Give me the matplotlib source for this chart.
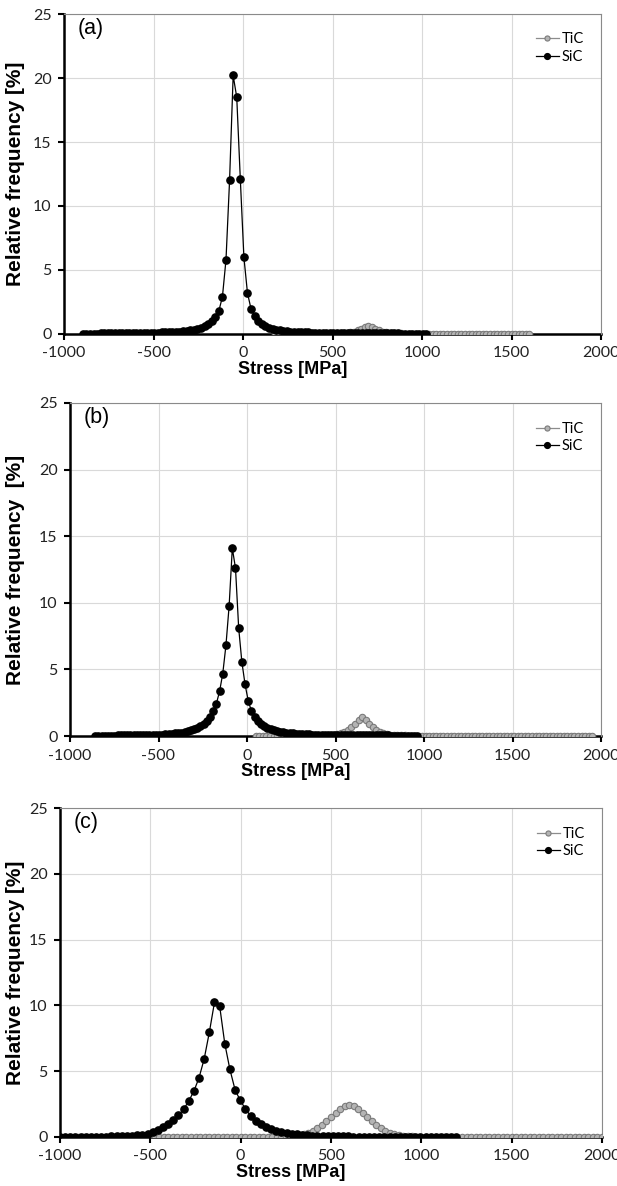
import numpy as np
import matplotlib
matplotlib.use('Agg')
import matplotlib.pyplot as plt

matplotlib.rcParams['axes.unicode_minus'] = False

# ---- data ----
# (a)
sic_a_x = np.arange(-895, 1026, 20)
sic_a_y = [0.03, 0.03, 0.03, 0.03, 0.03, 0.04, 0.04, 0.04, 0.04, 0.04,
           0.05, 0.05, 0.05, 0.05, 0.06, 0.06, 0.07, 0.07, 0.08, 0.09,
           0.10, 0.11, 0.12, 0.13, 0.14, 0.15, 0.16, 0.18, 0.20, 0.24,
           0.28, 0.33, 0.40, 0.50, 0.62, 0.80, 1.00, 1.30, 1.80, 2.90,
           5.80, 12.0, 20.2, 18.5, 12.1, 6.00, 3.20, 1.95, 1.40, 1.05,
           0.80, 0.62, 0.50, 0.40, 0.33, 0.28, 0.24, 0.21, 0.18, 0.16,
           0.15, 0.14, 0.13, 0.12, 0.11, 0.10, 0.10, 0.09, 0.09, 0.08,
           0.08, 0.07, 0.07, 0.07, 0.06, 0.06, 0.06, 0.06, 0.05, 0.05,
           0.05, 0.05, 0.05, 0.04, 0.04, 0.04, 0.04, 0.04, 0.04, 0.03,
           0.03, 0.03, 0.03, 0.03, 0.03, 0.03, 0.03]
tic_a_x = np.arange(180, 1601, 20)
tic_a_y = [0.02, 0.02, 0.02, 0.02, 0.02, 0.02, 0.02, 0.02, 0.02, 0.02,
           0.02, 0.02, 0.02, 0.02, 0.03, 0.03, 0.03, 0.04, 0.04, 0.05,
           0.08, 0.12, 0.18, 0.28, 0.40, 0.55, 0.65, 0.55, 0.40, 0.28,
           0.18, 0.12, 0.08, 0.05, 0.04, 0.04, 0.03, 0.03, 0.03, 0.03,
           0.02, 0.02, 0.02, 0.02, 0.02, 0.02, 0.02, 0.02, 0.02, 0.02,
           0.02, 0.02, 0.02, 0.02, 0.02, 0.02, 0.02, 0.02, 0.02, 0.02,
           0.02, 0.02, 0.02, 0.02, 0.02, 0.02, 0.02, 0.02, 0.02, 0.02,
           0.02, 0.02]

# (b)
sic_b_x = np.arange(-857, 962, 18)
sic_b_y = [0.03, 0.03, 0.03, 0.03, 0.03, 0.03, 0.03, 0.04, 0.04, 0.04,
           0.04, 0.05, 0.05, 0.05, 0.06, 0.06, 0.07, 0.07, 0.08, 0.08,
           0.09, 0.10, 0.12, 0.14, 0.16, 0.19, 0.22, 0.26, 0.30, 0.36,
           0.42, 0.50, 0.62, 0.75, 0.92, 1.15, 1.45, 1.85, 2.43, 3.35,
           4.68, 6.80, 9.76, 14.1, 12.6, 8.10, 5.56, 3.88, 2.63, 1.88,
           1.45, 1.15, 0.92, 0.75, 0.62, 0.52, 0.44, 0.38, 0.33, 0.29,
           0.26, 0.23, 0.20, 0.18, 0.16, 0.14, 0.13, 0.12, 0.11, 0.10,
           0.09, 0.09, 0.08, 0.08, 0.07, 0.07, 0.07, 0.06, 0.06, 0.06,
           0.06, 0.05, 0.05, 0.05, 0.05, 0.05, 0.04, 0.04, 0.04, 0.04,
           0.04, 0.04, 0.04, 0.03, 0.03, 0.03, 0.03, 0.03, 0.03, 0.03,
           0.03, 0.03]
tic_b_x = np.arange(50, 1951, 20)
tic_b_y = [0.02, 0.02, 0.02, 0.02, 0.02, 0.02, 0.02, 0.02, 0.02, 0.02,
           0.02, 0.02, 0.02, 0.02, 0.03, 0.03, 0.03, 0.04, 0.04, 0.05,
           0.06, 0.08, 0.10, 0.14, 0.20, 0.30, 0.45, 0.65, 0.90, 1.20,
           1.45, 1.20, 0.92, 0.68, 0.48, 0.33, 0.22, 0.15, 0.10, 0.07,
           0.05, 0.04, 0.04, 0.03, 0.03, 0.03, 0.02, 0.02, 0.02, 0.02,
           0.02, 0.02, 0.02, 0.02, 0.02, 0.02, 0.02, 0.02, 0.02, 0.02,
           0.02, 0.02, 0.02, 0.02, 0.02, 0.02, 0.02, 0.02, 0.02, 0.02,
           0.02, 0.02, 0.02, 0.02, 0.02, 0.02, 0.02, 0.02, 0.02, 0.02,
           0.02, 0.02, 0.02, 0.02, 0.02, 0.02, 0.02, 0.02, 0.02, 0.02,
           0.02, 0.02, 0.02, 0.02, 0.02, 0.02]

# (c)
sic_c_x = np.arange(-1000, 1195, 28.5)
sic_c_y = [0.02, 0.02, 0.02, 0.02, 0.02, 0.02, 0.03, 0.03, 0.03, 0.03,
           0.04, 0.05, 0.06, 0.08, 0.10, 0.13, 0.18, 0.25, 0.38, 0.56,
           0.76, 0.96, 1.26, 1.64, 2.10, 2.73, 3.48, 4.50, 5.93, 7.95,
           10.23, 9.97, 7.10, 5.13, 3.59, 2.78, 2.15, 1.60, 1.22, 0.95,
           0.74, 0.58, 0.46, 0.37, 0.30, 0.24, 0.20, 0.16, 0.13, 0.11,
           0.09, 0.07, 0.06, 0.05, 0.05, 0.04, 0.04, 0.03, 0.03, 0.03,
           0.03, 0.02, 0.02, 0.02, 0.02, 0.02, 0.02, 0.02, 0.02, 0.02,
           0.02, 0.02, 0.02, 0.02, 0.02, 0.02, 0.02, 0.02]
tic_c_x = np.arange(-1000, 2001, 25)
tic_c_y = [0.02, 0.02, 0.02, 0.02, 0.02, 0.02, 0.02, 0.02, 0.02, 0.02,
           0.02, 0.02, 0.02, 0.02, 0.02, 0.02, 0.02, 0.02, 0.02, 0.02,
           0.02, 0.02, 0.02, 0.02, 0.02, 0.02, 0.02, 0.02, 0.02, 0.02,
           0.02, 0.02, 0.02, 0.02, 0.02, 0.02, 0.02, 0.02, 0.02, 0.02,
           0.02, 0.02, 0.02, 0.02, 0.02, 0.02, 0.02, 0.02, 0.02, 0.02,
           0.03, 0.05, 0.08, 0.13, 0.20, 0.31, 0.46, 0.67, 0.93, 1.19,
           1.50, 1.83, 2.14, 2.38, 2.40, 2.35, 2.14, 1.83, 1.50, 1.19,
           0.93, 0.67, 0.46, 0.31, 0.20, 0.13, 0.08, 0.05, 0.04, 0.03,
           0.02, 0.02, 0.02, 0.02, 0.02, 0.02, 0.02, 0.02, 0.02, 0.02,
           0.02, 0.02, 0.02, 0.02, 0.02, 0.02, 0.02, 0.02, 0.02, 0.02,
           0.02, 0.02, 0.02, 0.02, 0.02, 0.02, 0.02, 0.02, 0.02, 0.02,
           0.02, 0.02, 0.02, 0.02, 0.02, 0.02, 0.02, 0.02, 0.02, 0.02,
           0.02]

panel_tags = ['(a)', '(b)', '(c)']
ylabels = ['Relative frequency [%]', 'Relative frequency  [%]', 'Relative frequency [%]']
x_ticks = [-1000, -500, 0, 500, 1000, 1500, 2000]
y_ticks = [0, 5, 10, 15, 20, 25]

panels = [(sic_a_x, sic_a_y, tic_a_x, tic_a_y),
          (sic_b_x, sic_b_y, tic_b_x, tic_b_y),
          (sic_c_x, sic_c_y, tic_c_x, tic_c_y)]

# ---- layout (pixel boxes: left, right, top, bottom) ----
W, H = 617, 1186
boxes = [(64, 601, 14, 334), (70, 601, 403, 736), (60, 602, 808, 1137)]

tick_font = 'Lato'
label_font = 'Liberation Sans'

fig = plt.figure(figsize=(W/100, H/100), dpi=100)
fig.patch.set_facecolor('white')

for i, (sx, sy, tx, ty) in enumerate(panels):
  l, r, t, b = boxes[i]
  ax = fig.add_axes([l/W, 1 - b/H, (r - l)/W, (b - t)/H])
  h_px = b - t

  ax.plot(tx, ty, '-', color='#8c8c8c', lw=0.9, marker='o', ms=4.6,
          mfc='#b4b4b4', mec='#7a7a7a', mew=0.8, label='TiC', zorder=3)
  ax.plot(sx, sy, '-', color='black', lw=0.9, marker='o', ms=5.2,
          mfc='black', mec='black', label='SiC', zorder=4)

  ax.set_xlim(-1000, 2000)
  ax.set_ylim(0, 25)
  ax.set_xticks(x_ticks)
  ax.set_yticks(y_ticks)
  ax.grid(True, color='#d9d9d9', lw=0.8)
  ax.set_axisbelow(True)

  for side in ['top', 'right']:
    ax.spines[side].set_color('#8a8a8a')
    ax.spines[side].set_linewidth(0.8)
  for side in ['left', 'bottom']:
    ax.spines[side].set_color('black')
    ax.spines[side].set_linewidth(1.8)
    ax.spines[side].set_zorder(2)

  ax.tick_params(axis='both', which='major', direction='out', length=4, width=1.5,
                 color='black', labelsize=11.5, pad=5)
  for lab in ax.get_xticklabels() + ax.get_yticklabels():
    lab.set_fontfamily(tick_font)
    lab.set_color('#222222')

  ax.set_xlabel('Stress [MPa]', fontsize=13, fontweight='bold', family=label_font)
  ax.xaxis.set_label_coords(0.425, -27/h_px)
  ax.set_ylabel(ylabels[i], fontsize=15, fontweight='bold', family=label_font)
  ax.yaxis.set_label_coords((25 - l)/(r - l), 0.5)

  ax.text(0.025, 0.955, panel_tags[i], transform=ax.transAxes, fontsize=15.5,
          family=label_font, ha='left', va='center')

  leg = ax.legend(loc='upper right', frameon=False, prop={'family': tick_font, 'size': 10.5},
                  handlelength=1.6, handletextpad=0.2, labelspacing=0.25,
                  bbox_to_anchor=(0.985, 0.97), borderaxespad=0.2, markerscale=0.8)

fig.savefig('out.png', dpi=100, facecolor=fig.get_facecolor())
